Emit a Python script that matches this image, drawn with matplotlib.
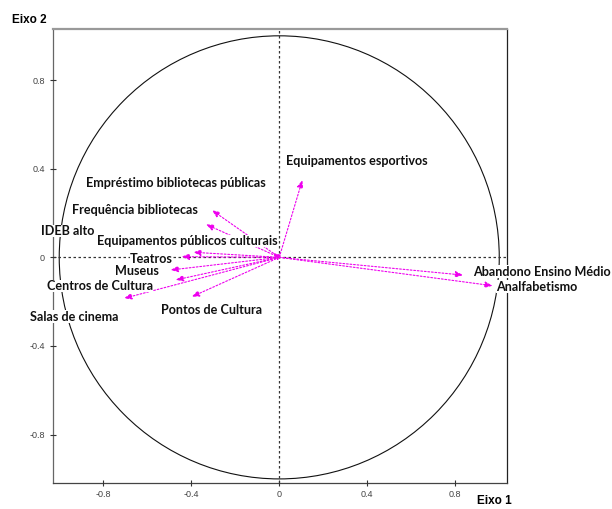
import numpy as np
import matplotlib
matplotlib.use("Agg")
import matplotlib.pyplot as plt
from matplotlib.patches import Circle

# Cargas das variáveis nos eixos 1 e 2
variaveis = [
    "Equipamentos esportivos",
    "Empréstimo bibliotecas públicas",
    "Frequência bibliotecas",
    "IDEB alto",
    "Equipamentos públicos culturais",
    "Teatros",
    "Museus",
    "Centros de Cultura",
    "Salas de cinema",
    "Pontos de Cultura",
    "Abandono Ensino Médio",
    "Analfabetismo",
]
eixo1 = [0.105, -0.306, -0.333, -0.03, -0.391, -0.444, -0.494, -0.471, -0.706, -0.398, 0.836, 0.970]
eixo2 = [0.349, 0.213, 0.149, 0.02, 0.023, 0.003, -0.057, -0.102, -0.185, -0.178, -0.080, -0.128]

x_ticks = [-0.8, -0.4, 0, 0.4, 0.8]
y_ticks = [-0.8, -0.4, 0, 0.4, 0.8]

# posição dos rótulos (centro do texto) e alinhamento
rotulos = {
    "Equipamentos esportivos": (0.354, 0.435, "center"),
    "Empréstimo bibliotecas públicas": (-0.469, 0.336, "center"),
    "Frequência bibliotecas": (-0.654, 0.213, "center"),
    "IDEB alto": (-0.963, 0.119, "center"),
    "Equipamentos públicos culturais": (-0.42, 0.074, "center"),
    "Teatros": (-0.581, -0.008, "center"),
    "Museus": (-0.648, -0.062, "center"),
    "Centros de Cultura": (-0.815, -0.129, "center"),
    "Salas de cinema": (-0.933, -0.268, "center"),
    "Pontos de Cultura": (-0.307, -0.238, "center"),
    "Abandono Ensino Médio": (0.879, -0.065, "left"),
    "Analfabetismo": (1.171, -0.133, "center"),
}

cor_seta = "#EE00EE"

fig = plt.figure(figsize=(6.12, 5.09), dpi=100)
ax = fig.add_axes([0.086, 0.0517, 0.742, 0.891])
ax.set_xlim(-1.03, 1.034)
ax.set_ylim(-1.017, 1.03)

# círculo de correlação e eixos pontilhados
ax.add_patch(Circle((0, 0), 1, fill=False, edgecolor="#111111", linewidth=0.8, zorder=1))
ax.axhline(0, color="#333333", linestyle=(0, (2, 2)), linewidth=0.9, zorder=1)
ax.axvline(0, color="#333333", linestyle=(0, (2, 2)), linewidth=0.9, zorder=1)

for nome, x, y in zip(variaveis, eixo1, eixo2):
    ax.annotate("", xy=(x, y), xytext=(0, 0),
                arrowprops=dict(arrowstyle="-|>,head_length=0.45,head_width=0.18",
                                color=cor_seta, linestyle=(0, (1.6, 1.6)),
                                linewidth=0.8, shrinkA=0, shrinkB=0),
                zorder=2)

for nome in variaveis:
    tx, ty, ha = rotulos[nome]
    ax.text(tx, ty, nome, ha=ha, va="center", fontsize=9.1, fontweight="bold",
            family="Lato", color="#111111", zorder=5, clip_on=False,
            bbox=dict(facecolor="white", edgecolor="none", pad=0.3))

ax.set_xticks(x_ticks)
ax.set_yticks(y_ticks)
ax.set_xticklabels([f"{v:g}" for v in x_ticks])
ax.set_yticklabels([f"{v:g}" for v in y_ticks])
ax.tick_params(direction="inout", length=5, width=0.8, color="#333333",
               labelsize=6.5, labelcolor="#444444", pad=3)
for lab in ax.get_xticklabels() + ax.get_yticklabels():
    lab.set_family("Liberation Sans")

ax.spines["top"].set_color("#999999")
ax.spines["top"].set_linewidth(1.6)
ax.spines["left"].set_color("#666666")
ax.spines["right"].set_color("#222222")
ax.spines["bottom"].set_color("#444444")
for s in ["left", "right", "bottom"]:
    ax.spines[s].set_linewidth(0.9)
for s in ax.spines.values():
    s.set_zorder(0.5)

fig.text(12 / 612, 1 - 20 / 509, "Eixo 2", ha="left", va="center", fontsize=8.5,
         fontweight="bold", family="Liberation Sans")
fig.text(494 / 612, 1 - 501 / 509, "Eixo 1", ha="center", va="center", fontsize=8.5,
         fontweight="bold", family="Liberation Sans")

fig.savefig("out.png", dpi=100)
